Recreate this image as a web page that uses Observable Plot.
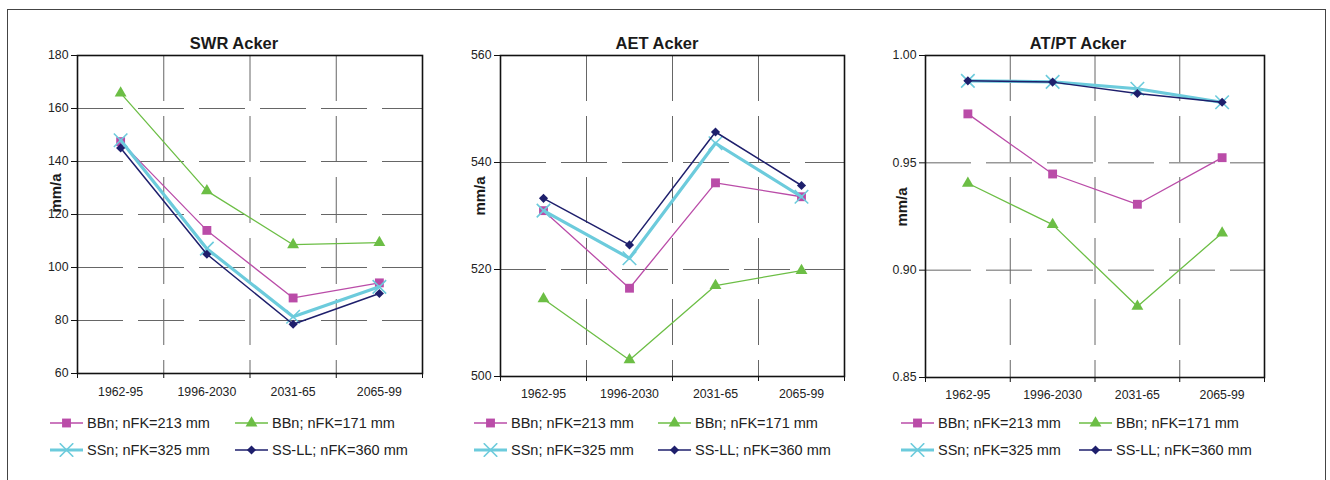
<!DOCTYPE html>
<html><head><meta charset="utf-8">
<script src="https://cdn.jsdelivr.net/npm/d3@7"></script>
<script src="https://cdn.jsdelivr.net/npm/@observablehq/plot@0.6"></script>
<style>
html,body{margin:0;padding:0;background:#fff;width:1330px;height:480px;overflow:hidden;font-family:"Liberation Sans",Arial,sans-serif;}
#box{position:absolute;left:7px;top:9px;width:1319px;height:520px;border:1px solid #444;box-sizing:border-box;}
.panel{position:absolute;top:0;}
.panel svg text{font-size:12.3px !important;font-family:"Liberation Sans",Arial,sans-serif !important;fill:#222;}
.title{position:absolute;font-weight:bold;font-size:16.5px;color:#1a1a1a;transform:translate(-50%,-50%);white-space:nowrap;}
.ylab{position:absolute;font-weight:bold;font-size:15px;color:#1a1a1a;transform:translate(-50%,-50%) rotate(-90deg);white-space:nowrap;}
.leg{position:absolute;display:flex;align-items:center;font-size:14.5px;color:#222;white-space:nowrap;transform:translateY(-50%);}
.leg svg{margin-right:4px;display:block;}
</style></head><body>
<div id="box"></div>
<div id="root"></div>
<script>
// ---------- data ----------
const periods = ["1962-95", "1996-2030", "2031-65", "2065-99"];
const seriesNames = ["BBn; nFK=213 mm", "BBn; nFK=171 mm", "SSn; nFK=325 mm", "SS-LL; nFK=360 mm"];

const swrBBn213 = [147.5, 114.0, 88.5, 94.2];
const swrBBn171 = [165.8, 128.9, 108.6, 109.4];
const swrSSn325 = [148.0, 107.1, 81.4, 92.7];
const swrSSLL360 = [145.1, 105.0, 78.6, 90.2];

const aetBBn213 = [531.0, 516.5, 536.2, 533.6];
const aetBBn171 = [514.5, 503.1, 517.0, 519.8];
const aetSSn325 = [531.0, 522.1, 543.6, 533.6];
const aetSSLL360 = [533.3, 524.6, 545.7, 535.7];

const atptBBn213 = [0.9728, 0.9448, 0.9307, 0.9524];
const atptBBn171 = [0.9405, 0.9212, 0.8831, 0.9173];
const atptSSn325 = [0.9882, 0.9877, 0.9845, 0.9782];
const atptSSLL360 = [0.9882, 0.9876, 0.9823, 0.9782];

const swrTicks = [60, 80, 100, 120, 140, 160, 180];
const aetTicks = [500, 520, 540, 560];
const atptTicks = [0.85, 0.90, 0.95, 1.00];

// ---------- styles ----------
const seriesColors = ["#BA4CA8", "#6CBE45", "#6CCBDC", "#1E1F6C"];
const seriesWidths = [1.3, 1.3, 3.2, 1.5];
const seriesSymbols = ["square", "triangle", "times", "diamond2"];
const d3Symbols = [d3.symbolSquare, d3.symbolTriangle, d3.symbolTimes, d3.symbolDiamond2];
const seriesR = [5, 4.4, 6.2, 4.1];

const panels = [
  {title: "SWR Acker", values: [swrBBn213, swrBBn171, swrSSn325, swrSSLL360], ticks: swrTicks, fmt: d => String(d),
   left: 0, width: 445, ml: 77, mr: 23, mb: 27, pad: 14, titleX: 234, ylabX: 55, ylabY: 193, legX: [50, 235]},
  {title: "AET Acker", values: [aetBBn213, aetBBn171, aetSSn325, aetSSLL360], ticks: aetTicks, fmt: d => String(d),
   left: 440, width: 430, ml: 60, mr: 26, mb: 24, pad: 13, titleX: 657, ylabX: 479, ylabY: 196, legX: [474, 658]},
  {title: "AT/PT Acker", values: [atptBBn213, atptBBn171, atptSSn325, atptSSLL360], ticks: atptTicks, fmt: d3.format(".2f"),
   left: 880, width: 420, ml: 45, mr: 36, mb: 23, pad: 13, titleX: 1078, ylabX: 901, ylabY: 207, legX: [901, 1079]}
];

const root = document.getElementById("root");
const H = 400;
const FS = 12.3;
const gridStyle = {stroke: "#666", strokeOpacity: 1, strokeWidth: 1, strokeDasharray: "46,15"};

panels.forEach(p => {
  const lo = p.ticks[0], hi = p.ticks[p.ticks.length - 1];
  const marks = [
    Plot.gridY(p.ticks.slice(1, -1), gridStyle),
    Plot.gridX([1, 2, 3], gridStyle),
    Plot.axisY(p.ticks, {tickSize: 6, tickPadding: 3, tickFormat: p.fmt, label: null, stroke: "#111", fontSize: FS, fill: "#222"}),
    Plot.axisX(periods.map((d, i) => i + 0.5), {tickSize: 0, tickPadding: p.pad, tickFormat: v => periods[Math.floor(v)], label: null, fontSize: FS, fill: "#222"}),
    Plot.axisX(d3.range(periods.length + 1), {tickSize: 5, tickFormat: () => "", label: null, stroke: "#111"})
  ];
  p.values.forEach((vals, s) => {
    const rows = periods.map((per, i) => ({x: i + 0.5, y: vals[i], period: per}));
    marks.push(Plot.line(rows, {x: "x", y: "y", stroke: seriesColors[s], strokeWidth: seriesWidths[s]}));
    const isStroke = seriesSymbols[s] === "times";
    marks.push(Plot.dot(rows, {x: "x", y: "y", symbol: seriesSymbols[s], r: seriesR[s],
      fill: isStroke ? "none" : seriesColors[s], stroke: isStroke ? seriesColors[s] : "none", strokeWidth: isStroke ? 1.6 : 0}));
  });
  marks.push(Plot.frame({stroke: "#111", strokeWidth: 1.6}));

  const chart = Plot.plot({
    width: p.width, height: H,
    marginLeft: p.ml, marginRight: p.mr, marginTop: 55, marginBottom: p.mb,
    x: {domain: [0, periods.length], axis: null},
    y: {domain: [lo, hi], axis: null},
    style: {fontFamily: '"Liberation Sans", Arial, sans-serif', fontSize: FS + "px", color: "#222", background: "transparent", overflow: "visible"},
    marks
  });
  const wrap = document.createElement("div");
  wrap.className = "panel";
  wrap.style.left = p.left + "px";
  wrap.appendChild(chart);
  root.appendChild(wrap);

  const t = document.createElement("div");
  t.className = "title"; t.textContent = p.title;
  t.style.left = p.titleX + "px"; t.style.top = "43px";
  root.appendChild(t);

  const yl = document.createElement("div");
  yl.className = "ylab"; yl.textContent = "mm/a";
  yl.style.left = p.ylabX + "px"; yl.style.top = p.ylabY + "px";
  root.appendChild(yl);

  seriesNames.forEach((name, s) => {
    const item = document.createElement("div");
    item.className = "leg";
    item.style.left = p.legX[s % 2] + "px";
    item.style.top = (s < 2 ? 423 : 450) + "px";
    const sv = d3.create("svg").attr("width", 33).attr("height", 14);
    sv.append("line").attr("x1", 0).attr("x2", 33).attr("y1", 7).attr("y2", 7)
      .attr("stroke", seriesColors[s]).attr("stroke-width", seriesWidths[s]);
    const isStroke = seriesSymbols[s] === "times";
    sv.append("path").attr("transform", "translate(16.5,7)")
      .attr("d", d3.symbol(d3Symbols[s], Math.PI * seriesR[s] * seriesR[s])())
      .attr("fill", isStroke ? "none" : seriesColors[s])
      .attr("stroke", isStroke ? seriesColors[s] : "none")
      .attr("stroke-width", 1.6);
    item.appendChild(sv.node());
    const sp = document.createElement("span");
    sp.textContent = name;
    item.appendChild(sp);
    root.appendChild(item);
  });
});
</script>
</body></html>
